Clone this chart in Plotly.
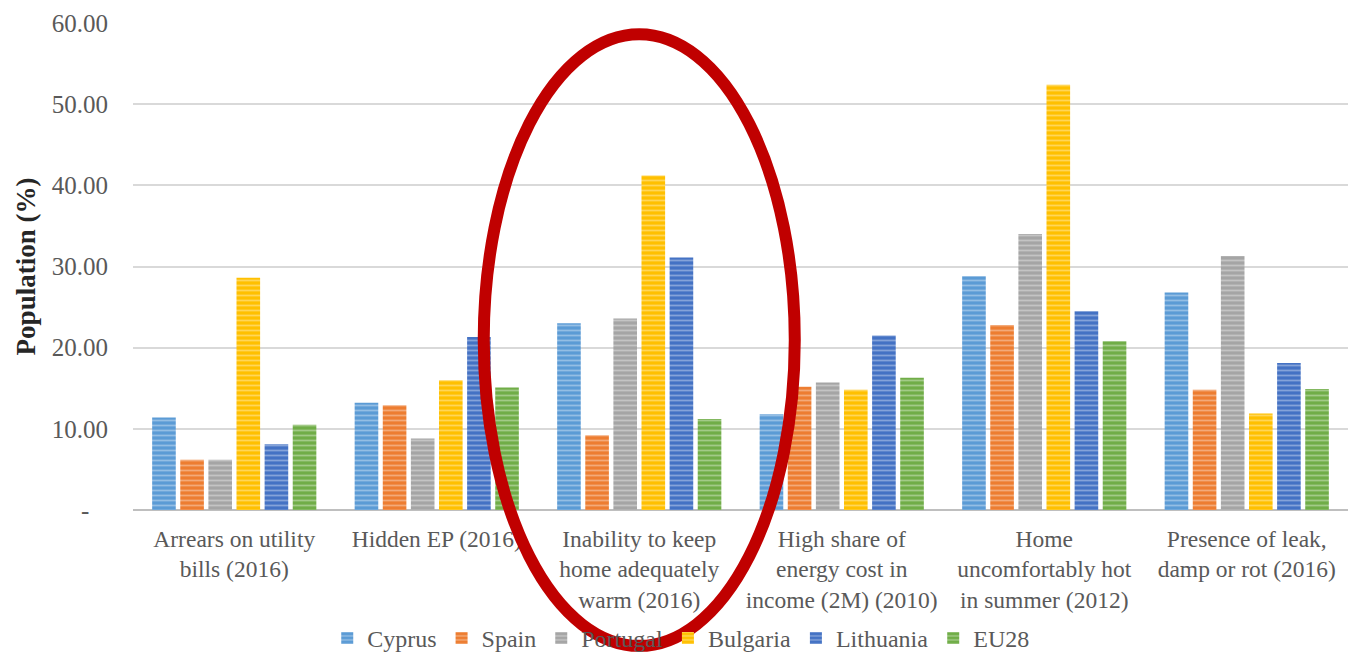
import plotly.graph_objects as go

# Indicator categories (x axis)
categories = [
    "Arrears on utility<br>bills (2016)",
    "Hidden EP (2016)",
    "Inability to keep<br>home adequately<br>warm (2016)",
    "High share of<br>energy cost in<br>income (2M) (2010)",
    "Home<br>uncomfortably hot<br>in summer (2012)",
    "Presence of leak,<br>damp or rot (2016)",
]

# Share of population (%) per country
cyprus = [11.4, 13.2, 23.0, 11.8, 28.8, 26.8]
spain = [6.2, 12.9, 9.2, 15.2, 22.8, 14.8]
portugal = [6.2, 8.8, 23.6, 15.7, 34.0, 31.3]
bulgaria = [28.6, 16.0, 41.2, 14.8, 52.4, 11.9]
lithuania = [8.1, 21.3, 31.1, 21.5, 24.5, 18.1]
eu28 = [10.5, 15.1, 11.2, 16.3, 20.8, 14.9]

series_names = ["Cyprus", "Spain", "Portugal", "Bulgaria", "Lithuania", "EU28"]
series_values = [cyprus, spain, portugal, bulgaria, lithuania, eu28]
series_colors = ["#5B9BD5", "#ED7D31", "#A5A5A5", "#FFC000", "#4472C4", "#70AD47"]

y_tickvals = [0, 10, 20, 30, 40, 50, 60]
y_ticktext = ["-\u00a0\u00a0\u00a0", "10.00", "20.00", "30.00", "40.00", "50.00", "60.00"]

highlighted = "Inability to keep<br>home adequately<br>warm (2016)"

FONT = "Liberation Serif, Times New Roman, serif"
TEXT_GRAY = "#595959"

fig = go.Figure()
for name, vals, color in zip(series_names, series_values, series_colors):
    fig.add_trace(go.Bar(
        name=name,
        x=categories,
        y=vals,
        marker=dict(
            color=color,
            line=dict(width=0),
            pattern=dict(shape="-", fgcolor="#ffffff", fgopacity=0.35,
                         size=5, solidity=0.35),
        ),
    ))

fig.update_layout(
    width=1348,
    height=652,
    barmode="group",
    bargap=0.167,
    bargroupgap=0.16,
    plot_bgcolor="white",
    paper_bgcolor="white",
    margin=dict(l=133, r=0, t=23, b=142),
    font=dict(family=FONT, size=24, color=TEXT_GRAY),
    legend=dict(
        orientation="h",
        xref="container", yref="container",
        x=0.505, xanchor="center",
        y=0.021, yanchor="middle",
        bgcolor="rgba(0,0,0,0)",
        font=dict(family=FONT, size=24, color=TEXT_GRAY),
        itemwidth=30,
        traceorder="normal",
    ),
    showlegend=True,
)

fig.update_xaxes(
    automargin=False,
    showgrid=False,
    showline=False,
    ticks="",
    tickfont=dict(family=FONT, size=23.5, color=TEXT_GRAY),
    ticklabelstandoff=12,
)

fig.update_yaxes(
    automargin=False,
    range=[0, 60],
    tickvals=y_tickvals,
    ticktext=y_ticktext,
    showgrid=True,
    gridcolor="#D9D9D9",
    gridwidth=1.5,
    zeroline=True,
    zerolinecolor="#BFBFBF",
    zerolinewidth=2,
    showline=False,
    ticks="",
    ticklabelstandoff=24,
    tickfont=dict(family=FONT, size=25, color=TEXT_GRAY),
    title=dict(text="<b>Population (%)</b>", standoff=8,
               font=dict(family=FONT, size=27, color="#262626")),
)

# Red ellipse highlighting one indicator group
idx = categories.index(highlighted)
n = len(categories)
cx = (idx + 0.5) / n
half_w = 0.128
fig.add_shape(
    type="circle",
    xref="paper", yref="paper",
    x0=cx - half_w, x1=cx + half_w,
    y0=-0.279, y1=0.977,
    line=dict(color="#C00000", width=12),
    layer="above",
)

fig.write_html("out.html")
